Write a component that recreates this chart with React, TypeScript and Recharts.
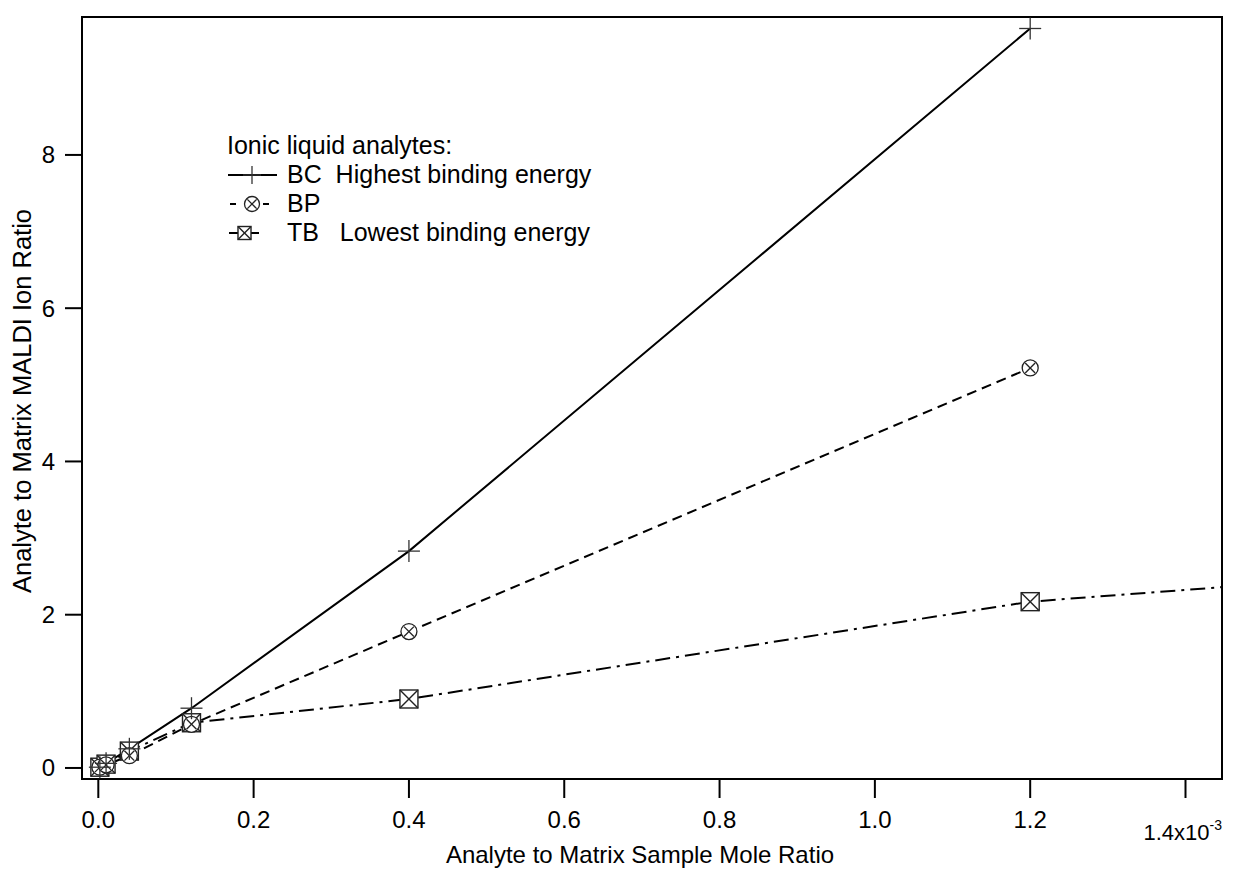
import React from 'react';
import { ComposedChart, Line, XAxis, YAxis, ReferenceArea } from 'recharts';

// Analyte to matrix sample mole ratio (x 10^-3)
const moleRatio = [0.002, 0.01, 0.04, 0.12, 0.4, 1.2];
// Analyte to matrix MALDI ion ratio
const bcValues = [0.01, 0.06, 0.25, 0.78, 2.83, 9.65];
const bpValues = [0.01, 0.04, 0.16, 0.57, 1.78, 5.22];
const tbValues = [0.01, 0.05, 0.22, 0.59, 0.9, 2.17];
// TB fit curve continues past the last point to the plot edge
const tbFitX = [1.447];
const tbFitY = [2.36];

const xTicks = [0, 0.2, 0.4, 0.6, 0.8, 1.0, 1.2, 1.4];
const yTicks = [0, 2, 4, 6, 8];
const xDomain = [-0.021, 1.447];
const yDomain = [-0.144, 9.8];

const FONT = '"Liberation Sans", Arial, Helvetica, sans-serif';

const bcData = moleRatio.map((x, i) => ({ x, y: bcValues[i] }));
const bpData = moleRatio.map((x, i) => ({ x, y: bpValues[i] }));
const tbData = [
  ...moleRatio.map((x, i) => ({ x, y: tbValues[i], fit: false })),
  ...tbFitX.map((x, i) => ({ x, y: tbFitY[i], fit: true })),
];

const PlusMark = ({ cx, cy, r = 11 }: any) => (
  <g stroke="#333" strokeWidth={1.3} fill="none">
    <line x1={cx - r} y1={cy} x2={cx + r} y2={cy} />
    <line x1={cx} y1={cy - r} x2={cx} y2={cy + r} />
  </g>
);
const CircleX = ({ cx, cy, r = 8 }: any) => {
  const d = r * 0.62;
  return (
    <g stroke="#222" strokeWidth={1.3} fill="none">
      <circle cx={cx} cy={cy} r={r} fill="#fff" />
      <line x1={cx - d} y1={cy - d} x2={cx + d} y2={cy + d} />
      <line x1={cx - d} y1={cy + d} x2={cx + d} y2={cy - d} />
    </g>
  );
};
const BoxX = ({ cx, cy, h = 9 }: any) => (
  <g stroke="#222" strokeWidth={1.4} fill="none">
    <rect x={cx - h} y={cy - h} width={2 * h} height={2 * h} fill="#fff" />
    <line x1={cx - h} y1={cy - h} x2={cx + h} y2={cy + h} />
    <line x1={cx - h} y1={cy + h} x2={cx + h} y2={cy - h} />
  </g>
);

const bcDot = (p: any) => <PlusMark key={`bc${p.index}`} cx={p.cx} cy={p.cy} />;
const bpDot = (p: any) => <CircleX key={`bp${p.index}`} cx={p.cx} cy={p.cy} />;
const tbDot = (p: any) =>
  p.payload && p.payload.fit ? <g key={`tb${p.index}`} /> : <BoxX key={`tb${p.index}`} cx={p.cx} cy={p.cy} />;

const XTick = (props: any) => {
  const { x, y, payload } = props;
  const v = payload.value as number;
  if (Math.abs(v - 1.4) < 1e-6) {
    return (
      <text x={x - 42} y={y + 42} fontSize={22} fontFamily={FONT} fill="#000" textAnchor="start">
        1.4x10
        <tspan dy={-10} fontSize={14}>-3</tspan>
      </text>
    );
  }
  return (
    <text x={x} y={y + 30} fontSize={24} fontFamily={FONT} fill="#000" textAnchor="middle">
      {v.toFixed(1)}
    </text>
  );
};

const YTick = (props: any) => {
  const { x, y, payload } = props;
  return (
    <text x={x} y={y + 8.5} fontSize={24} fontFamily={FONT} fill="#000" textAnchor="end">
      {String(payload.value)}
    </text>
  );
};

const legendRows = [
  { label: 'BC  Highest binding energy', kind: 'bc' },
  { label: 'BP', kind: 'bp' },
  { label: 'TB   Lowest binding energy', kind: 'tb' },
];

const LegendSymbol = ({ kind }: { kind: string }) => {
  if (kind === 'bc') {
    return (
      <svg width={52} height={24}>
        <line x1={1} y1={12} x2={50} y2={12} stroke="#000" strokeWidth={2} />
        <PlusMark cx={25} cy={12} r={9} />
      </svg>
    );
  }
  if (kind === 'bp') {
    return (
      <svg width={52} height={24}>
        <line x1={3} y1={12} x2={9} y2={12} stroke="#000" strokeWidth={2} />
        <line x1={36} y1={12} x2={42} y2={12} stroke="#000" strokeWidth={2} />
        <CircleX cx={25} cy={12} r={7.5} />
      </svg>
    );
  }
  return (
    <svg width={52} height={24}>
      <line x1={2} y1={12} x2={11} y2={12} stroke="#000" strokeWidth={2} />
      <line x1={24} y1={12} x2={32} y2={12} stroke="#000" strokeWidth={2} />
      <BoxX cx={17.5} cy={12} h={6.5} />
    </svg>
  );
};

const LegendBox = () => (
  <div
    style={{
      position: 'absolute',
      left: 227,
      top: 131,
      fontFamily: FONT,
      fontSize: 25,
      color: '#000',
      lineHeight: '29px',
    }}
  >
    <div>Ionic liquid analytes:</div>
    {legendRows.map((r) => (
      <div key={r.kind} style={{ display: 'flex', alignItems: 'center', height: 29 }}>
        <LegendSymbol kind={r.kind} />
        <span style={{ marginLeft: 8, whiteSpace: 'pre' }}>{r.label}</span>
      </div>
    ))}
  </div>
);

const XLabel = (props: any) => {
  const vb = props.viewBox || {};
  return (
    <text
      x={vb.x + vb.width / 2 - 12}
      y={vb.y + 84}
      fontSize={24}
      fontFamily={FONT}
      fill="#000"
      textAnchor="middle"
    >
      Analyte to Matrix Sample Mole Ratio
    </text>
  );
};

const YLabel = (props: any) => {
  const vb = props.viewBox || {};
  const cx = 31;
  const cy = vb.y + vb.height / 2 + 3;
  return (
    <text
      x={cx}
      y={cy}
      transform={`rotate(-90 ${cx} ${cy})`}
      fontSize={25.5}
      fontFamily={FONT}
      fill="#000"
      textAnchor="middle"
    >
      Analyte to Matrix MALDI Ion Ratio
    </text>
  );
};

export default function App() {
  return (
    <div style={{ position: 'absolute', left: 0, top: 0, width: 1233, height: 869, background: '#fff' }}>
      <ComposedChart
        width={1233}
        height={869}
        margin={{ top: 17, right: 11, bottom: 0, left: 0 }}
        style={{ background: '#fff' }}
      >
        <XAxis
          type="number"
          dataKey="x"
          domain={xDomain}
          ticks={xTicks}
          allowDataOverflow
          height={90}
          tickSize={19}
          tickMargin={0}
          tick={<XTick />}
          axisLine={{ stroke: '#000', strokeWidth: 2 }}
          tickLine={{ stroke: '#000', strokeWidth: 2 }}
          label={<XLabel />}
        />
        <YAxis
          type="number"
          domain={yDomain}
          ticks={yTicks}
          allowDataOverflow
          width={82}
          tickSize={17}
          tickMargin={10}
          tick={<YTick />}
          axisLine={{ stroke: '#000', strokeWidth: 2 }}
          tickLine={{ stroke: '#000', strokeWidth: 2 }}
          label={<YLabel />}
        />
        <ReferenceArea
          x1={xDomain[0]}
          x2={xDomain[1]}
          y1={yDomain[0]}
          y2={yDomain[1]}
          fill="none"
          fillOpacity={0}
          stroke="#000"
          strokeWidth={2}
          ifOverflow="visible"
        />
        <Line
          data={tbData}
          dataKey="y"
          name="TB"
          type="linear"
          stroke="#000"
          strokeWidth={2}
          strokeDasharray="15 6 3 6"
          dot={tbDot}
          activeDot={false}
          isAnimationActive={false}
        />
        <Line
          data={bpData}
          dataKey="y"
          name="BP"
          type="linear"
          stroke="#000"
          strokeWidth={2}
          strokeDasharray="10 6"
          dot={bpDot}
          activeDot={false}
          isAnimationActive={false}
        />
        <Line
          data={bcData}
          dataKey="y"
          name="BC"
          type="linear"
          stroke="#000"
          strokeWidth={2}
          dot={bcDot}
          activeDot={false}
          isAnimationActive={false}
        />
      </ComposedChart>
      <LegendBox />
    </div>
  );
}
